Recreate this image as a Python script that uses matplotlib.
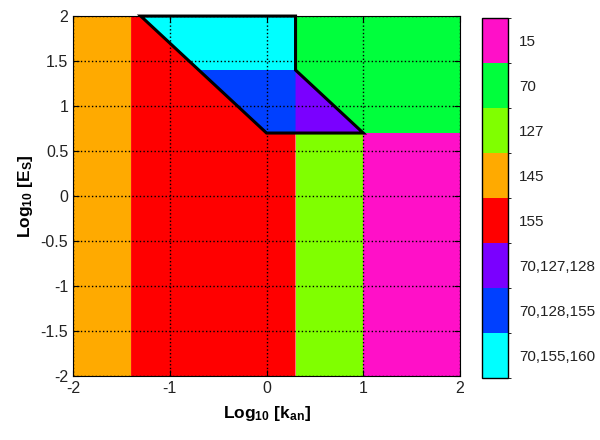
import matplotlib
matplotlib.use("Agg")
import matplotlib.pyplot as plt
from matplotlib.patches import Polygon
from matplotlib.colors import ListedColormap, BoundaryNorm
import matplotlib.colorbar as mcolorbar

plt.rcParams['font.family'] = ['Liberation Sans', 'DejaVu Sans']
plt.rcParams['axes.unicode_minus'] = False
plt.rcParams['mathtext.fontset'] = 'custom'
plt.rcParams['mathtext.rm'] = 'Liberation Sans:bold'
plt.rcParams['mathtext.it'] = 'Liberation Sans:bold'
plt.rcParams['mathtext.bf'] = 'Liberation Sans:bold'

# colorbar categories, bottom to top
labels = ["70,155,160", "70,128,155", "70,127,128", "155", "145", "127", "70", "15"]
colors = ["#00FFFF", "#0040FF", "#7A00FF", "#FF0000", "#FFAA00", "#80FF00", "#00FF3C", "#FF10C8"]

# region polygons in (log10 k_an, log10 E_s)
region_145 = [(-2, -2), (-1.4, -2), (-1.4, 2), (-2, 2)]
region_155 = [(-1.4, -2), (0.3, -2), (0.3, 0.7), (0, 0.7), (-1.3, 2), (-1.4, 2)]
region_70_155_160 = [(-1.3, 2), (0.3, 2), (0.3, 1.4), (-0.7, 1.4)]
region_70_128_155 = [(-0.7, 1.4), (0.3, 1.4), (0.3, 0.7), (0, 0.7)]
region_70_127_128 = [(0.3, 1.4), (1.0, 0.7), (0.3, 0.7)]
region_70 = [(0.3, 2), (2, 2), (2, 0.7), (1.0, 0.7), (0.3, 1.4)]
region_127 = [(0.3, -2), (1.0, -2), (1.0, 0.7), (0.3, 0.7)]
region_15 = [(1.0, -2), (2, -2), (2, 0.7), (1.0, 0.7)]

outline = [(-1.3, 2), (0.3, 2), (0.3, 1.4), (1.0, 0.7), (0, 0.7)]

regions = {
    "145": region_145,
    "155": region_155,
    "70,155,160": region_70_155_160,
    "70,128,155": region_70_128_155,
    "70,127,128": region_70_127_128,
    "70": region_70,
    "127": region_127,
    "15": region_15,
}

fig = plt.figure(figsize=(6, 4.4), dpi=100)
ax = fig.add_axes([0.1217, 0.1455, 0.645, 0.818])

for name, pts in regions.items():
    c = colors[labels.index(name)]
    ax.add_patch(Polygon(pts, closed=True, facecolor=c, edgecolor='none', zorder=1))

ax.add_patch(Polygon(outline, closed=True, facecolor='none', edgecolor='black', lw=2.2,
                     zorder=4, clip_on=False))

ax.set_xlim(-2, 2)
ax.set_ylim(-2, 2)
ax.set_xticks([-2, -1, 0, 1, 2])
ax.set_yticks([-2, -1.5, -1, -0.5, 0, 0.5, 1, 1.5, 2])
ax.set_yticklabels(["-2", "-1.5", "-1", "-0.5", "0", "0.5", "1", "1.5", "2"])
ax.grid(True, color='black', linestyle=':', linewidth=1.0, zorder=2)
ax.set_axisbelow(False)
ax.tick_params(direction='in', labelsize=11.5, length=4, top=True, right=True,
               labelcolor='#222222')
for s in ax.spines.values():
    s.set_zorder(5)

ax.set_xlabel(r'Log$_{10}$ [k$_{an}$]', fontsize=12.5, fontweight='bold', labelpad=6)
ax.set_ylabel(r'Log$_{10}$ [E$_S$]', fontsize=12.5, fontweight='bold', labelpad=4)

cax = fig.add_axes([0.803, 0.141, 0.0433, 0.818])
cmap = ListedColormap(colors)
norm = BoundaryNorm(range(len(colors) + 1), cmap.N)
cb = mcolorbar.ColorbarBase(cax, cmap=cmap, norm=norm, orientation='vertical')
cb.set_ticks([i + 0.5 for i in range(len(labels))])
cb.set_ticklabels(labels)
cax.tick_params(length=0, labelsize=11, pad=8, labelcolor='#222222')
cb.outline.set_linewidth(1.0)

fig.savefig("out.png", dpi=100)
